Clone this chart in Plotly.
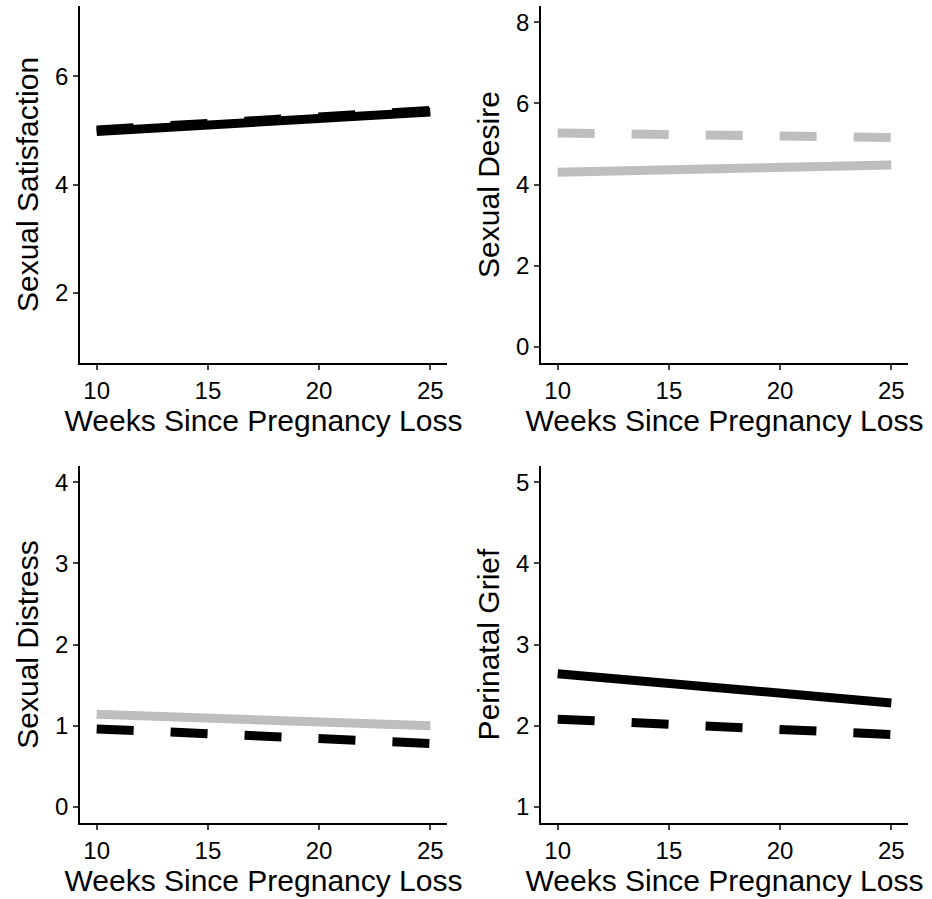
import plotly.graph_objects as go

weeks = [10, 25]

# Panel 1: Sexual Satisfaction (both black)
sat_solid = [4.98, 5.34]
sat_dashed = [5.01, 5.37]
# Panel 2: Sexual Desire (both gray)
des_solid = [4.30, 4.48]
des_dashed = [5.27, 5.16]
# Panel 3: Sexual Distress (gray solid, black dashed)
dis_solid = [1.14, 1.00]
dis_dashed = [0.96, 0.78]
# Panel 4: Perinatal Grief (both black)
grief_solid = [2.64, 2.28]
grief_dashed = [2.08, 1.89]

x_ticks = [10, 15, 20, 25]
y_titles = ["Sexual Satisfaction", "Sexual Desire", "Sexual Distress", "Perinatal Grief"]
y_ranges = [[0.7, 7.3], [-0.4, 8.4], [-0.2, 4.2], [0.8, 5.2]]
y_ticks = [[2, 4, 6], [0, 2, 4, 6, 8], [0, 1, 2, 3, 4], [1, 2, 3, 4, 5]]

BLACK = "#000000"
GRAY = "#bebebe"
LW = 9
DASH = "37px,37px"

panels = [
    (sat_solid, BLACK, sat_dashed, BLACK),
    (des_solid, GRAY, des_dashed, GRAY),
    (dis_solid, GRAY, dis_dashed, BLACK),
    (grief_solid, BLACK, grief_dashed, BLACK),
]

W, H = 932, 899
xdoms = [[80/W, 447/W], [541/W, 908/W]]
ydoms = [[1-363/H, 1-6/H], [1-823/H, 1-466/H]]

fig = go.Figure()
font = dict(family="Liberation Sans, Arial, sans-serif", color="#000000")

for i, (s, sc, d, dc) in enumerate(panels):
    n = "" if i == 0 else str(i + 1)
    col = i % 2
    row = i // 2
    fig.add_trace(go.Scatter(x=weeks, y=s, mode="lines",
                             line=dict(color=sc, width=LW),
                             xaxis="x" + n, yaxis="y" + n, showlegend=False))
    fig.add_trace(go.Scatter(x=weeks, y=d, mode="lines",
                             line=dict(color=dc, width=LW, dash=DASH),
                             xaxis="x" + n, yaxis="y" + n, showlegend=False))
    fig.update_layout(**{
        "xaxis" + n: dict(domain=xdoms[col], anchor="y" + n, range=[9.25, 25.75],
                          tickvals=x_ticks, ticks="outside", ticklen=5, tickwidth=1.5,
                          showline=True, linecolor="black", linewidth=1.7,
                          showgrid=False, zeroline=False,
                          tickfont=dict(size=24, **font),
                          title=dict(text="Weeks Since Pregnancy Loss",
                                     font=dict(size=30, **font), standoff=4)),
        "yaxis" + n: dict(domain=ydoms[row], anchor="x" + n, range=y_ranges[i],
                          tickvals=y_ticks[i], ticks="outside", ticklen=5, tickwidth=1.5,
                          showline=True, linecolor="black", linewidth=1.7,
                          showgrid=False, zeroline=False,
                          tickfont=dict(size=24, **font),
                          title=dict(text=y_titles[i],
                                     font=dict(size=30, **font), standoff=7)),
    })

fig.update_layout(width=W, height=H, margin=dict(l=0, r=0, t=0, b=0),
                  plot_bgcolor="white", paper_bgcolor="white")

fig.write_html("out.html", config={"displayModeBar": False},
               post_script="document.body.style.margin='0';document.body.style.overflow='hidden';")
